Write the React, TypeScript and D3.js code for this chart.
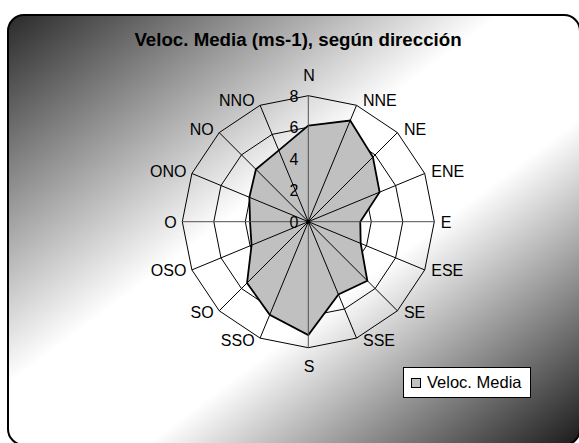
import * as d3 from "d3";
import { useEffect, useRef } from "react";

const DIRECTIONS = ["N", "NNE", "NE", "ENE", "E", "ESE", "SE", "SSE", "S", "SSO", "SO", "OSO", "O", "ONO", "NO", "NNO"];
const VELOCITY = [6.1, 6.95, 5.8, 4.9, 3.3, 3.6, 5.3, 5.0, 7.2, 6.4, 5.5, 3.9, 3.7, 4.05, 4.7, 4.9];
const RING_TICKS = [0, 2, 4, 6, 8];
const TITLE = "Veloc. Media (ms-1), según dirección";
const SERIES_NAME = "Veloc. Media";

const WIDTH = 579;
const HEIGHT = 443;
const FONT = "'Liberation Sans', Arial, sans-serif";

const drawPlot = (svgElement: SVGSVGElement) => {
  const svg = d3.select(svgElement);
  svg.selectAll("*").remove();
  svg.attr("width", WIDTH).attr("height", HEIGHT);

  const cx = 308.3;
  const cy = 221.7;
  const radius = 126;

  const defs = svg.append("defs");
  const grad = defs
    .append("linearGradient")
    .attr("id", "chart-bg")
    .attr("x1", 0)
    .attr("y1", 0)
    .attr("x2", 1)
    .attr("y2", 1);
  grad.append("stop").attr("offset", 0).attr("stop-color", "#2a2a2a");
  grad.append("stop").attr("offset", 0.43).attr("stop-color", "#ffffff");
  grad.append("stop").attr("offset", 0.62).attr("stop-color", "#ffffff");
  grad.append("stop").attr("offset", 1).attr("stop-color", "#1a1a1a");

  // chart area
  svg
    .append("rect")
    .attr("x", 8)
    .attr("y", 15)
    .attr("width", 572)
    .attr("height", 430)
    .attr("rx", 16)
    .attr("fill", "url(#chart-bg)")
    .attr("stroke", "#000")
    .attr("stroke-width", 2);

  svg
    .append("text")
    .attr("x", 298)
    .attr("y", 46)
    .attr("text-anchor", "middle")
    .style("font-family", FONT)
    .style("font-size", "18.7px")
    .style("font-weight", "bold")
    .text(TITLE);

  const rScale = d3.scaleLinear().domain([0, 8]).range([0, radius]);
  const angleStep = (2 * Math.PI) / DIRECTIONS.length;
  const angleOf = (i: number) => i * angleStep;

  const plot = svg.append("g").attr("transform", `translate(${cx},${cy})`);

  const ring = d3
    .lineRadial<string>()
    .angle((_, i) => angleOf(i))
    .curve(d3.curveLinearClosed);

  // grid rings
  plot
    .selectAll("path.ring")
    .data(RING_TICKS.filter((t) => t > 0))
    .join("path")
    .attr("class", "ring")
    .attr("d", (t) => ring.radius(() => rScale(t))(DIRECTIONS))
    .attr("fill", "none")
    .attr("stroke", "#000")
    .attr("stroke-width", 1);

  // data polygon
  const area = d3
    .lineRadial<number>()
    .angle((_, i) => angleOf(i))
    .radius((v) => rScale(v))
    .curve(d3.curveLinearClosed);

  plot
    .append("path")
    .attr("d", area(VELOCITY))
    .attr("fill", "#c0c0c0")
    .attr("stroke", "#000")
    .attr("stroke-width", 1.8)
    .attr("stroke-linejoin", "miter");

  // spokes
  plot
    .selectAll("line.spoke")
    .data(DIRECTIONS)
    .join("line")
    .attr("class", "spoke")
    .attr("x1", 0)
    .attr("y1", 0)
    .attr("x2", (_, i) => Math.sin(angleOf(i)) * radius)
    .attr("y2", (_, i) => -Math.cos(angleOf(i)) * radius)
    .attr("stroke", (_, i) => (i % 4 === 0 ? "#505050" : "#000"))
    .attr("stroke-width", 1);

  plot.append("circle").attr("r", 2).attr("fill", "#000");

  // value axis labels
  plot
    .selectAll("text.tick")
    .data(RING_TICKS)
    .join("text")
    .attr("class", "tick")
    .attr("x", -10)
    .attr("y", (t) => -rScale(t) + 5.8)
    .attr("text-anchor", "end")
    .style("font-family", FONT)
    .style("font-size", "16px")
    .text((t) => String(t));

  // category labels
  plot
    .selectAll("text.cat")
    .data(DIRECTIONS)
    .join("text")
    .attr("class", "cat")
    .each(function (d, i) {
      const a = angleOf(i);
      const s = Math.sin(a);
      const c = Math.cos(a);
      const vx = s * radius;
      const vy = -c * radius;
      const el = d3.select(this);
      if (Math.abs(s) < 0.01) {
        el.attr("x", vx + 0.8)
          .attr("y", c > 0 ? vy - 15 : vy + 24)
          .attr("text-anchor", "middle");
      } else {
        const centerY = vy - (c > 0 ? 5 : 2) * c;
        el.attr("x", vx + (s > 0 ? 6.5 : -5.5))
          .attr("y", centerY + 5.8)
          .attr("text-anchor", s > 0 ? "start" : "end");
      }
      el.text(d);
    })
    .style("font-family", FONT)
    .style("font-size", "16px");

  // legend
  const legend = svg.append("g");
  legend
    .append("rect")
    .attr("x", 403.5)
    .attr("y", 367.5)
    .attr("width", 127)
    .attr("height", 30)
    .attr("fill", "#fff")
    .attr("stroke", "#000")
    .attr("stroke-width", 1);
  legend
    .append("rect")
    .attr("x", 411.5)
    .attr("y", 378.5)
    .attr("width", 9)
    .attr("height", 9)
    .attr("fill", "#c0c0c0")
    .attr("stroke", "#000")
    .attr("stroke-width", 1);
  legend
    .append("text")
    .attr("x", 427)
    .attr("y", 388)
    .style("font-family", FONT)
    .style("font-size", "16.5px")
    .text(SERIES_NAME);
};

const App = () => {
  const svgRef = useRef<SVGSVGElement | null>(null);

  useEffect(() => {
    if (svgRef.current) drawPlot(svgRef.current);
  }, []);

  return (
    <div style={{ position: "absolute", left: 0, top: 0, width: WIDTH, height: HEIGHT, background: "#fff" }}>
      <svg ref={svgRef} style={{ display: "block" }} />
    </div>
  );
};

export default App;
